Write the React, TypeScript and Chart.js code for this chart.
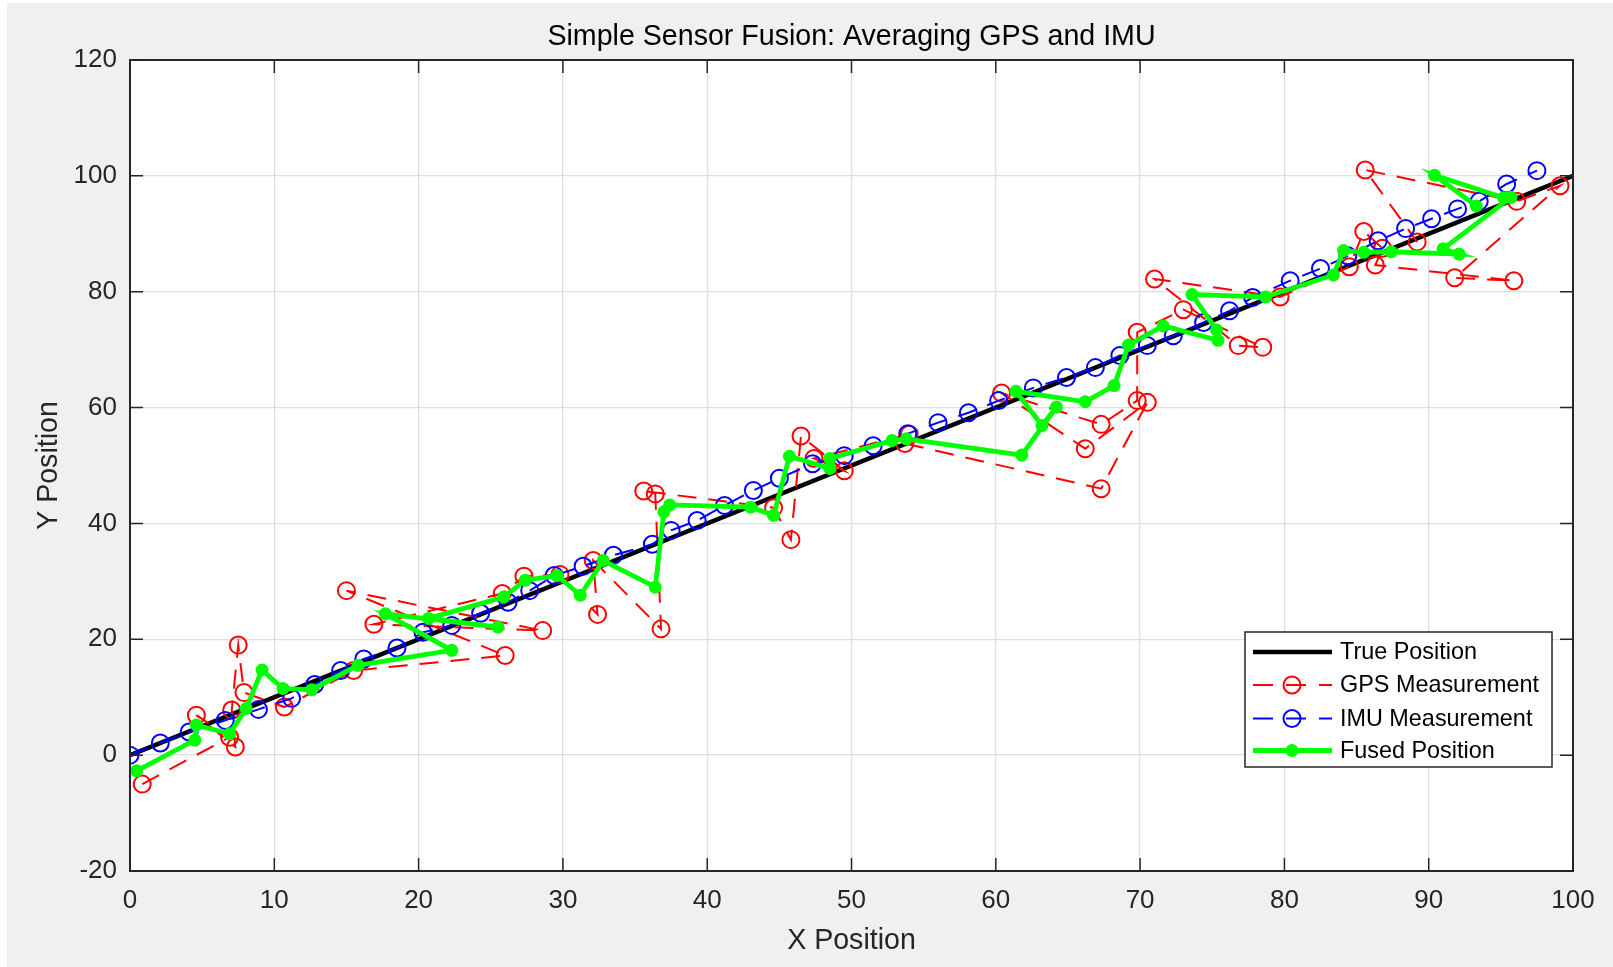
import React, { useEffect, useRef } from "react";
import { Chart, registerables } from "chart.js";

Chart.register(...registerables);

const FONT = '"Liberation Sans", Arial, Helvetica, sans-serif';

const chartTitle = "Simple Sensor Fusion: Averaging GPS and IMU";
const xLabel = "X Position";
const yLabel = "Y Position";
const legendLabels = ["True Position", "GPS Measurement", "IMU Measurement", "Fused Position"];

const xTicks = [0, 10, 20, 30, 40, 50, 60, 70, 80, 90, 100];
const yTicks = [-20, 0, 20, 40, 60, 80, 100, 120];

const trueX = [0, 100];
const trueY = [0, 100];

const gpsX = [0.85, 6.9, 4.6, 7.3, 7.05, 7.5, 7.9, 10.7, 15.5, 26.0, 15.0, 28.6, 16.9, 25.8, 27.3, 29.8, 32.4, 32.1, 36.8, 36.4, 35.6, 44.6, 45.8, 46.5, 49.5, 47.4, 54.0, 53.7, 67.3, 70.5, 66.2, 60.4, 67.3, 69.8, 69.8, 73.0, 78.5, 76.8, 71.0, 79.7, 84.5, 85.5, 86.8, 86.3, 95.9, 91.8, 99.1, 96.1, 85.6, 89.2];
const gpsY = [-5.0, 3.1, 6.9, 1.4, 7.8, 19.0, 10.8, 8.3, 14.6, 17.2, 28.4, 21.5, 22.6, 27.9, 30.9, 31.2, 24.3, 33.6, 21.8, 45.1, 45.6, 42.7, 37.2, 55.1, 49.1, 51.2, 55.4, 53.8, 46.0, 60.9, 52.9, 62.5, 57.1, 61.2, 73.0, 76.9, 70.4, 70.7, 82.2, 79.1, 84.3, 90.4, 87.5, 84.6, 81.9, 82.4, 98.3, 95.6, 101.0, 88.6];

const imuX = [0, 2.1, 4.1, 6.6, 8.9, 11.2, 12.8, 14.6, 16.2, 18.5, 20.3, 22.3, 24.3, 26.2, 27.7, 29.4, 31.4, 33.5, 36.2, 37.5, 39.3, 41.2, 43.2, 45.0, 47.3, 49.5, 51.5, 53.9, 56.0, 58.1, 60.2, 62.6, 64.9, 66.9, 68.6, 70.5, 72.3, 74.4, 76.2, 77.8, 80.4, 82.5, 84.4, 86.5, 88.4, 90.2, 92.0, 93.5, 95.4, 97.5];
const imuY = [0, 2.1, 4.0, 6.0, 7.9, 9.8, 12.2, 14.6, 16.6, 18.5, 21.2, 22.4, 24.5, 26.4, 28.4, 31.0, 32.6, 34.5, 36.4, 38.8, 40.5, 43.1, 45.7, 47.8, 50.3, 51.7, 53.4, 55.5, 57.4, 59.1, 61.2, 63.4, 65.2, 66.9, 69.0, 70.7, 72.4, 74.7, 76.7, 79.0, 81.9, 84.0, 86.2, 88.8, 90.9, 92.6, 94.3, 95.6, 98.6, 100.9];

const fusedX = [0.46, 4.5, 4.6, 6.9, 8.05, 9.15, 10.6, 12.6, 15.8, 22.3, 17.7, 25.5, 20.7, 25.9, 27.4, 29.6, 31.2, 32.8, 36.4, 37.0, 37.4, 43.0, 44.6, 45.7, 48.5, 48.5, 52.8, 53.8, 61.8, 64.2, 63.2, 61.4, 66.2, 68.2, 69.2, 71.6, 75.4, 75.3, 73.6, 78.7, 83.4, 84.1, 85.5, 87.4, 92.1, 91.0, 95.7, 95.2, 90.4, 93.3];
const fusedY = [-2.7, 2.6, 5.2, 3.7, 8.05, 14.7, 11.5, 11.3, 15.5, 18.1, 24.4, 22.1, 23.6, 27.3, 30.2, 31.0, 27.6, 33.6, 29.0, 42.0, 43.2, 42.8, 41.4, 51.6, 49.5, 51.2, 54.3, 54.6, 51.8, 60.1, 56.9, 62.8, 61.0, 63.8, 70.8, 74.1, 71.6, 73.4, 79.5, 79.1, 82.9, 87.1, 86.8, 86.9, 86.5, 87.4, 96.3, 96.2, 100.1, 94.8];

const DASH = [19, 12];
const AXIS_COLOR = "#262626";

function toPoints(xs: number[], ys: number[]) {
  return xs.map((x, i) => ({ x, y: ys[i] }));
}

export default function App() {
  const ref = useRef<HTMLCanvasElement | null>(null);

  useEffect(() => {
    const canvas = ref.current;
    if (!canvas) return;

    const decor = {
      id: "decor",
      beforeDraw(chart: any) {
        const { ctx, chartArea: a } = chart;
        ctx.save();
        ctx.fillStyle = "#ffffff";
        ctx.fillRect(a.left, a.top, a.right - a.left, a.bottom - a.top);
        ctx.restore();
      },
      afterDraw(chart: any) {
        const { ctx, chartArea: a, scales } = chart;
        ctx.save();
        ctx.strokeStyle = AXIS_COLOR;
        ctx.lineWidth = 2;
        ctx.setLineDash([]);
        ctx.strokeRect(a.left, a.top, a.right - a.left, a.bottom - a.top);
        ctx.lineWidth = 1.5;
        const tl = 13;
        ctx.beginPath();
        xTicks.forEach((v) => {
          const px = scales.x.getPixelForValue(v);
          ctx.moveTo(px, a.bottom);
          ctx.lineTo(px, a.bottom - tl);
          ctx.moveTo(px, a.top);
          ctx.lineTo(px, a.top + tl);
        });
        yTicks.forEach((v) => {
          const py = scales.y.getPixelForValue(v);
          ctx.moveTo(a.left, py);
          ctx.lineTo(a.left + tl, py);
          ctx.moveTo(a.right, py);
          ctx.lineTo(a.right - tl, py);
        });
        ctx.stroke();

        ctx.fillStyle = "#000000";
        ctx.font = `28.6px ${FONT}`;
        ctx.textAlign = "center";
        ctx.textBaseline = "middle";
        ctx.fillText(chartTitle, (a.left + a.right) / 2, 37);

        const lx = a.right - 328;
        const ly = a.bottom - 239;
        const lw = 307;
        const lh = 135;
        ctx.fillStyle = "#ffffff";
        ctx.fillRect(lx, ly, lw, lh);
        ctx.strokeStyle = AXIS_COLOR;
        ctx.lineWidth = 1.5;
        ctx.strokeRect(lx, ly, lw, lh);

        const rows = [ly + 20, ly + 53, ly + 86.5, ly + 118.5];
        const sx0 = lx + 8;
        const sx1 = lx + 87;
        const mx = lx + 47;
        ctx.font = `23.4px ${FONT}`;
        ctx.textAlign = "left";
        ctx.textBaseline = "middle";

        ctx.strokeStyle = "#000000";
        ctx.lineWidth = 4.5;
        ctx.beginPath();
        ctx.moveTo(sx0, rows[0]);
        ctx.lineTo(sx1, rows[0]);
        ctx.stroke();
        [["#ff0000", rows[1]], ["#0000ff", rows[2]]].forEach(([c, y]: any) => {
          ctx.strokeStyle = c;
          ctx.lineWidth = 2;
          ctx.setLineDash([20, 13]);
          ctx.beginPath();
          ctx.moveTo(sx0, y);
          ctx.lineTo(sx1, y);
          ctx.stroke();
          ctx.setLineDash([]);
          ctx.beginPath();
          ctx.arc(mx, y, 8.5, 0, Math.PI * 2);
          ctx.stroke();
        });
        ctx.strokeStyle = "#00ff00";
        ctx.fillStyle = "#00ff00";
        ctx.lineWidth = 4.8;
        ctx.beginPath();
        ctx.moveTo(sx0, rows[3]);
        ctx.lineTo(sx1, rows[3]);
        ctx.stroke();
        ctx.beginPath();
        ctx.arc(mx, rows[3], 6.5, 0, Math.PI * 2);
        ctx.fill();

        ctx.fillStyle = "#000000";
        legendLabels.forEach((t, i) => ctx.fillText(t, lx + 95, rows[i] + 1));
        ctx.restore();
      },
    };

    const chart = new Chart(canvas, {
      type: "scatter",
      data: {
        datasets: [
          {
            label: legendLabels[0],
            data: toPoints(trueX, trueY),
            showLine: true,
            borderColor: "#000000",
            borderWidth: 4.5,
            pointRadius: 0,
            tension: 0,
            order: 4,
          },
          {
            label: legendLabels[1],
            data: toPoints(gpsX, gpsY),
            showLine: true,
            borderColor: "#ff0000",
            borderWidth: 2,
            borderDash: DASH,
            pointRadius: 8.5,
            pointBorderWidth: 2,
            pointBorderColor: "#ff0000",
            pointBackgroundColor: "rgba(0,0,0,0)",
            tension: 0,
            order: 3,
          },
          {
            label: legendLabels[2],
            data: toPoints(imuX, imuY),
            showLine: true,
            borderColor: "#0000ff",
            borderWidth: 2,
            borderDash: DASH,
            pointRadius: 8.5,
            pointBorderWidth: 2,
            pointBorderColor: "#0000ff",
            pointBackgroundColor: "rgba(0,0,0,0)",
            tension: 0,
            order: 2,
          },
          {
            label: legendLabels[3],
            data: toPoints(fusedX, fusedY),
            showLine: true,
            borderColor: "#00ff00",
            borderWidth: 4.8,
            pointRadius: 6.5,
            pointBorderWidth: 0,
            pointBackgroundColor: "#00ff00",
            pointBorderColor: "#00ff00",
            tension: 0,
            order: 1,
          },
        ],
      },
      options: {
        responsive: false,
        devicePixelRatio: 1,
        animation: false,
        events: [],
        layout: { padding: { left: 0, top: 60, right: 40, bottom: 0 } },
        plugins: {
          legend: { display: false },
          title: { display: false },
          tooltip: { enabled: false },
        },
        scales: {
          x: {
            type: "linear",
            min: 0,
            max: 100,
            afterFit: (s: any) => {
              s.height = 96;
            },
            afterBuildTicks: (s: any) => {
              s.ticks = xTicks.map((v) => ({ value: v }));
            },
            ticks: {
              color: AXIS_COLOR,
              font: { family: FONT, size: 26 },
              padding: 14,
              maxRotation: 0,
              autoSkip: false,
            },
            grid: { color: "#dedede", lineWidth: 1.3, drawTicks: false },
            border: { display: false },
            title: {
              display: true,
              text: xLabel,
              color: AXIS_COLOR,
              font: { family: FONT, size: 28.6 },
              padding: { top: 0, bottom: 9 },
            },
          },
          y: {
            type: "linear",
            min: -20,
            max: 120,
            afterFit: (s: any) => {
              s.width = 130;
            },
            afterBuildTicks: (s: any) => {
              s.ticks = yTicks.map((v) => ({ value: v }));
            },
            ticks: {
              color: AXIS_COLOR,
              font: { family: FONT, size: 26 },
              padding: 13,
              autoSkip: false,
            },
            grid: { color: "#dedede", lineWidth: 1.3, drawTicks: false },
            border: { display: false },
            title: {
              display: true,
              text: yLabel,
              color: AXIS_COLOR,
              font: { family: FONT, size: 28.6 },
              padding: { top: 32, bottom: 0 },
            },
          },
        },
      },
      plugins: [decor],
    } as any);

    return () => chart.destroy();
  }, []);

  return (
    <div
      style={{
        position: "fixed",
        left: 0,
        top: 0,
        width: 1613,
        height: 967,
        background: "#ffffff",
        overflow: "hidden",
      }}
    >
      <div
        style={{
          position: "absolute",
          left: 7,
          top: 3,
          right: 0,
          bottom: 0,
          background: "#f0f0f0",
        }}
      />
      <canvas
        ref={ref}
        width={1613}
        height={967}
        style={{ position: "absolute", left: 0, top: 0, width: 1613, height: 967 }}
      />
    </div>
  );
}
